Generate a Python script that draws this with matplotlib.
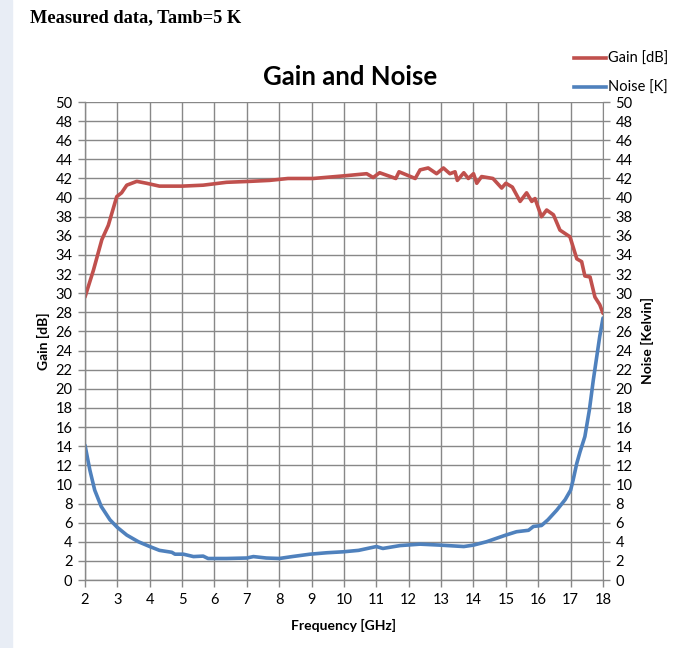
import matplotlib
matplotlib.use('Agg')
import matplotlib.pyplot as plt
from matplotlib.lines import Line2D
from matplotlib.patches import Rectangle

# Gain trace [dB] vs frequency [GHz]
gain_freq = [2.0, 2.26, 2.52, 2.72, 2.98, 3.13, 3.29, 3.6, 3.9, 4.3, 5.0, 5.65,
             6.37, 7.1, 7.7, 8.27, 9.05, 10.08, 10.7, 10.9, 11.1, 11.6, 11.7,
             12.2, 12.35, 12.6, 12.86, 13.07, 13.27, 13.43, 13.5, 13.7, 13.84,
             14.0, 14.1, 14.25, 14.6, 14.87, 15.0, 15.2, 15.44, 15.64, 15.8,
             15.9, 16.1, 16.26, 16.47, 16.67, 16.98, 17.19, 17.34, 17.44, 17.6,
             17.75, 17.9, 18.0]
gain_db = [29.6, 32.4, 35.6, 37.1, 40.1, 40.5, 41.3, 41.7, 41.5, 41.2, 41.2, 41.3,
           41.6, 41.7, 41.8, 42.0, 42.0, 42.3, 42.5, 42.1, 42.6, 42.0, 42.7,
           42.0, 42.9, 43.1, 42.5, 43.1, 42.5, 42.7, 41.8, 42.6, 42.0,
           42.5, 41.5, 42.2, 42.0, 41.0, 41.5, 41.1, 39.6, 40.5, 39.6,
           39.9, 38.0, 38.7, 38.2, 36.6, 35.9, 33.6, 33.3, 31.8, 31.7,
           29.6, 28.8, 27.9]

# Noise temperature [K] vs frequency [GHz]
noise_freq = [2.0, 2.15, 2.3, 2.5, 2.77, 3.0, 3.29, 3.65, 4.0, 4.3, 4.68, 4.78,
              5.04, 5.35, 5.65, 5.8, 6.38, 7.0, 7.2, 7.6, 8.0, 8.4, 8.95, 9.47,
              9.98, 10.45, 11.0, 11.2, 11.73, 12.35, 12.96, 13.7, 14.0, 14.4,
              15.0, 15.33, 15.7, 15.85, 16.1, 16.3, 16.57, 16.83, 17.0, 17.08,
              17.19, 17.29, 17.44, 17.58, 17.7, 17.8, 17.9, 18.0]
noise_k = [14.1, 11.5, 9.4, 7.7, 6.3, 5.5, 4.7, 4.0, 3.5, 3.1, 2.9, 2.7,
           2.7, 2.45, 2.5, 2.25, 2.25, 2.3, 2.45, 2.3, 2.25, 2.45, 2.7, 2.85,
           2.95, 3.1, 3.5, 3.3, 3.6, 3.75, 3.65, 3.5, 3.65, 4.0,
           4.7, 5.05, 5.2, 5.6, 5.7, 6.3, 7.3, 8.4, 9.4, 10.5,
           12.2, 13.4, 15.0, 17.8, 20.9, 23.2, 25.5, 27.4]

freq_ticks = list(range(2, 19))
y_ticks = list(range(0, 51, 2))

red = '#c0504d'
blue = '#4f81bd'
grid_c = '#888888'
lw = 2.6

plt.rcParams['font.family'] = ['Lato', 'DejaVu Sans']

fig = plt.figure(figsize=(6.86, 6.48), dpi=100)
fig.patches.append(Rectangle((0, 0), 0.018, 1, transform=fig.transFigure,
                             color='#e8edf5', zorder=0))

W, H = 686, 648
ax = fig.add_axes([85 / W, 1 - 580 / H, (603 - 85) / W, (580 - 102) / H])
ax.set_xlim(2, 18)
ax.set_ylim(0, 50)
ax.set_xticks(freq_ticks)
ax.set_yticks(y_ticks)
ax.grid(True, color=grid_c, linewidth=1.0)
ax.set_axisbelow(True)
for side in ['top', 'right']:
    ax.spines[side].set_visible(False)
for side in ['left', 'bottom']:
    ax.spines[side].set_color(grid_c)
    ax.spines[side].set_linewidth(1.0)
ax.tick_params(axis='both', direction='out', length=5, width=1.0, color=grid_c,
               labelsize=10.5, pad=4)

ax.plot(noise_freq, noise_k, color=blue, linewidth=lw, solid_capstyle='round',
        solid_joinstyle='round')
ax.plot(gain_freq, gain_db, color=red, linewidth=lw, solid_capstyle='round',
        solid_joinstyle='round')

# right axis for the noise scale
ax2 = ax.twinx()
ax2.set_ylim(0, 50)
ax2.set_yticks(y_ticks)
for side in ['top', 'left', 'bottom']:
    ax2.spines[side].set_visible(False)
ax2.spines['right'].set_color(grid_c)
ax2.tick_params(axis='y', direction='out', length=5, width=1.0, color=grid_c,
                labelsize=10.5, pad=4)

ax.set_xlabel('Frequency [GHz]', fontsize=10, fontweight='bold', labelpad=9)
ax.set_ylabel('Gain [dB]', fontsize=10, fontweight='bold', labelpad=4)
ax2.set_ylabel('Noise [Kelvin]', fontsize=10, fontweight='bold', labelpad=6)

fig.text(350 / W, 1 - 77 / H, 'Gain and Noise', fontsize=18.5, fontweight='bold',
         ha='center', va='center')
fig.text(30 / W, 1 - 18 / H, 'Measured data, Tamb=5 K', fontsize=13.2,
         fontweight='bold', family='Liberation Serif', ha='left', va='center')

handles = [Line2D([], [], color=red, linewidth=lw),
           Line2D([], [], color=blue, linewidth=lw)]
fig.legend(handles, ['Gain [dB]', 'Noise [K]'], loc='upper right',
           bbox_to_anchor=(668 / W, 1 - 52 / H), frameon=False, fontsize=10.5,
           handlelength=2.2, handletextpad=0.1, labelspacing=1.0,
           borderpad=0, borderaxespad=0)

fig.savefig('out.png', dpi=100)
